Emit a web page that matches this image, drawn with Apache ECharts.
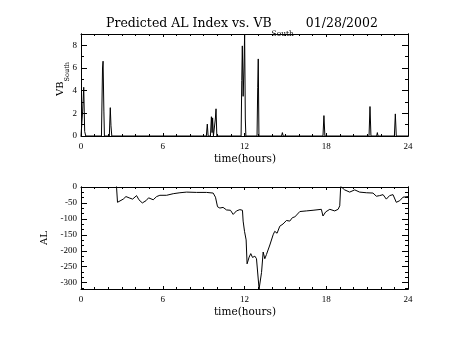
<!DOCTYPE html>
<html>
<head>
<meta charset="utf-8">
<script src="https://cdn.jsdelivr.net/npm/echarts@6/dist/echarts.min.js"></script>
<style>
  html, body { margin: 0; padding: 0; background: #fff; }
  #chart { width: 454px; height: 341px; }
</style>
</head>
<body>
<div id="chart"></div>
<script>
// VB south (top panel)
var vbTime = [0, 0.05, 0.12, 0.2, 0.27, 0.35, 1.5, 1.58, 1.62, 1.68, 1.72, 2.08, 2.15, 2.2, 2.26,
  9.2, 9.27, 9.33, 9.5, 9.57, 9.62, 9.66, 9.72, 9.82, 9.86, 9.91, 9.97,
  11.75, 11.8, 11.84, 11.9, 11.96, 12.01, 12.06, 12.1, 12.92, 12.97, 13.01, 13.06,
  14.72, 14.78, 14.84, 17.76, 17.83, 17.9, 21.14, 21.21, 21.28, 21.7, 21.75, 21.8,
  23.0, 23.07, 23.14, 24];
var vbValue = [0, 0, 2.2, 4.3, 0.4, 0, 0, 6.0, 6.6, 2.2, 0, 0, 2.5, 0.9, 0,
  0, 1.05, 0, 0, 1.7, 0.3, 1.6, 0, 0, 1.5, 2.4, 0,
  0, 4.9, 7.95, 3.5, 6.0, 9.0, 1.5, 0, 0, 4.3, 6.8, 0,
  0, 0.3, 0, 0, 1.8, 0, 0, 2.6, 0, 0, 0.3, 0,
  0, 1.95, 0, 0];

// AL index (bottom panel)
var alTime = [2.6, 2.68, 3.10, 3.30, 3.59, 3.79, 4.08, 4.25, 4.50, 4.77, 4.96, 5.30, 5.55, 5.79,
  6.28, 6.77, 7.26, 7.75, 8.48, 9.21, 9.70, 9.87, 10.02, 10.19, 10.43, 10.68, 10.97, 11.17,
  11.41, 11.66, 11.85, 11.90, 12.00, 12.12, 12.19, 12.34, 12.46, 12.59, 12.76, 12.88, 13.00,
  13.07, 13.25, 13.37, 13.49, 13.61, 13.86, 14.10, 14.22, 14.39, 14.59, 14.83, 15.08, 15.32,
  15.52, 15.69, 16.06, 16.54, 17.03, 17.64, 17.76, 17.96, 18.26, 18.62, 18.87, 18.99, 19.06,
  19.35, 19.72, 20.09, 20.45, 20.94, 21.43, 21.68, 21.92, 22.17, 22.41, 22.65, 22.90, 23.14,
  23.39, 23.63, 24.0];
var alValue = [5, -48, -38, -30, -35, -38, -27, -40, -50, -43, -34, -40, -30, -26,
  -26, -21, -18, -16, -17, -17, -19, -32, -62, -66, -64, -72, -73, -86,
  -75, -71, -73, -107, -139, -166, -241, -220, -209, -221, -217, -225, -220,
  -320, -268, -204, -225, -212, -182, -150, -139, -145, -123, -116, -105, -107,
  -96, -94, -77, -75, -73, -70, -91, -78, -70, -75, -70, -59, 2,
  -9, -16, -9, -16, -18, -19, -29, -27, -24, -38, -27, -24, -48,
  -43, -32, -30];

var vbMajorTicks = [0, 2, 4, 6, 8];
var vbMinorTicks = [1, 3, 5, 7];
var alMajorTicks = [0, -50, -100, -150, -200, -250, -300];
var alMinorTicks = [-16.7, -33.3, -66.7, -83.3, -116.7, -133.3, -166.7, -183.3,
  -216.7, -233.3, -266.7, -283.3, -316.7];

var serif = "DejaVu Serif";
var tickFont = { color: "#000", fontFamily: "Liberation Serif", fontSize: 9 };
var black = { color: "#000", width: 1 };

function zip(a, b) {
  return a.map(function (v, i) { return [v, b[i]]; });
}

function xAx(grid, pos, labels) {
  return {
    type: "value", gridIndex: grid, position: pos, min: 0, max: 24, interval: 6,
    axisLine: { show: true, onZero: false, lineStyle: black },
    axisTick: { show: true, inside: true, length: 3, lineStyle: black },
    minorTick: { show: true, splitNumber: 6, length: 2, lineStyle: black },
    splitLine: { show: false },
    axisLabel: Object.assign({ show: labels, margin: 6 }, tickFont),
  };
}

function yAx(grid, pos, min, max, ticks, len, labels) {
  return {
    type: "value", gridIndex: grid, position: pos, min: min, max: max,
    axisLine: { show: true, onZero: false, lineStyle: black },
    axisTick: { show: true, inside: true, length: len, customValues: ticks, lineStyle: black },
    splitLine: { show: false },
    axisLabel: Object.assign({ show: labels, margin: 4, customValues: ticks }, tickFont),
  };
}

var chart = echarts.init(document.getElementById("chart"));
chart.setOption({
  animation: false,
  backgroundColor: "#fff",
  grid: [
    { left: 81, top: 34, width: 327, height: 102 },
    { left: 81, top: 187, width: 327, height: 102 },
  ],
  xAxis: [xAx(0, "bottom", true), xAx(0, "top", false), xAx(1, "bottom", true), xAx(1, "top", false)],
  yAxis: [
    yAx(0, "left", 0, 9, vbMajorTicks, 6, true),
    yAx(0, "left", 0, 9, vbMinorTicks, 3, false),
    yAx(0, "right", 0, 9, vbMajorTicks, 6, false),
    yAx(0, "right", 0, 9, vbMinorTicks, 3, false),
    yAx(1, "left", -320, 0, alMajorTicks, 6, true),
    yAx(1, "left", -320, 0, alMinorTicks, 3, false),
    yAx(1, "right", -320, 0, alMajorTicks, 6, false),
    yAx(1, "right", -320, 0, alMinorTicks, 3, false),
  ],
  series: [
    {
      type: "line", xAxisIndex: 0, yAxisIndex: 0, data: zip(vbTime, vbValue),
      showSymbol: false, clip: true, lineStyle: { color: "#000", width: 1 },
    },
    {
      type: "line", xAxisIndex: 2, yAxisIndex: 4, data: zip(alTime, alValue),
      showSymbol: false, clip: true, lineStyle: { color: "#000", width: 1 },
    },
  ],
  graphic: [
    {
      type: "text", x: 242, y: 17,
      style: {
        text: "{a|Predicted AL Index vs. VB}{s|South}{a|   01/28/2002}",
        align: "center", verticalAlign: "top", fill: "#000",
        rich: {
          a: { fontFamily: serif, fontSize: 12.5, lineHeight: 21, verticalAlign: "top", fill: "#000" },
          s: { fontFamily: serif, fontSize: 7.5, lineHeight: 21, verticalAlign: "bottom", fill: "#000" },
        },
      },
    },
    {
      type: "text", x: 63, y: 79, rotation: Math.PI / 2,
      style: {
        text: "{a|VB}{s|South}",
        align: "center", verticalAlign: "middle", fill: "#000",
        rich: {
          a: { fontFamily: serif, fontSize: 10, lineHeight: 16, verticalAlign: "top", fill: "#000" },
          s: { fontFamily: serif, fontSize: 6.5, lineHeight: 16, verticalAlign: "bottom", fill: "#000" },
        },
      },
    },
    {
      type: "text", x: 44, y: 238, rotation: Math.PI / 2,
      style: { text: "AL", fontFamily: serif, fontSize: 10, align: "center", verticalAlign: "middle", fill: "#000" },
    },
    {
      type: "text", x: 245, y: 159,
      style: { text: "time(hours)", fontFamily: serif, fontSize: 10.5, align: "center", verticalAlign: "middle", fill: "#000" },
    },
    {
      type: "text", x: 245, y: 312.5,
      style: { text: "time(hours)", fontFamily: serif, fontSize: 10.5, align: "center", verticalAlign: "middle", fill: "#000" },
    },
  ],
});
</script>
</body>
</html>
